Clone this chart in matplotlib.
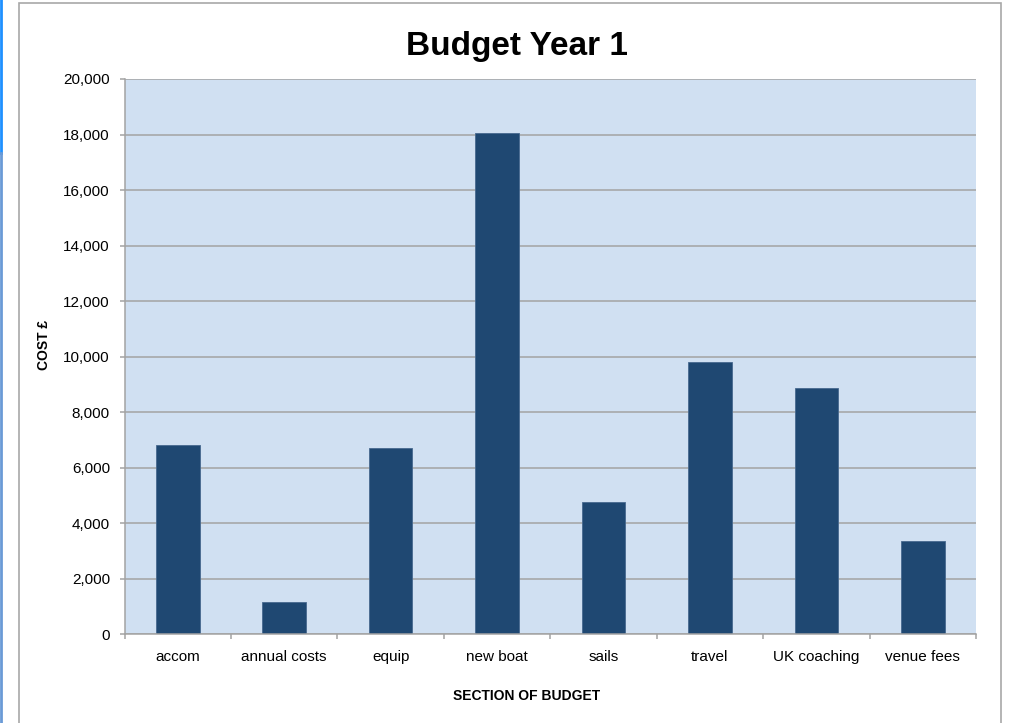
import matplotlib
matplotlib.use("Agg")
import matplotlib.pyplot as plt
import numpy as np
from matplotlib.patches import Rectangle
from matplotlib.lines import Line2D
from matplotlib.ticker import FuncFormatter, FixedLocator

plt.rcParams['font.family'] = ['Liberation Sans', 'DejaVu Sans']

categories = ["accom", "annual costs", "equip", "new boat", "sails",
              "travel", "UK coaching", "venue fees"]
costs = [6820, 1150, 6710, 18050, 4750, 9800, 8860, 3370]
y_ticks = [0, 2000, 4000, 6000, 8000, 10000, 12000, 14000, 16000, 18000, 20000]

title = "Budget Year 1"
x_title = "SECTION OF BUDGET"
y_title = "COST £"

grid_col = "#a3a3a3"
bar_col = "#1f4872"
face_col = "#d0e0f2"

fig = plt.figure(figsize=(10.11, 7.23), dpi=100)
W, H = 1011, 723

# chart frame (spreadsheet object border)
fig.patches.append(Rectangle((19 / W, -0.05), (1001 - 19) / W, 1.05 - 3 / H,
                             transform=fig.transFigure, fill=False,
                             edgecolor="#a8a8a8", linewidth=1.2))
# spreadsheet edge on the far left
fig.lines.append(Line2D([1 / W, 1 / W], [1, 1 - 153 / H], transform=fig.transFigure,
                        color="#1e90ff", linewidth=2))
fig.lines.append(Line2D([1 / W, 1 / W], [1 - 153 / H, 0], transform=fig.transFigure,
                        color="#6a9ad6", linewidth=2))

ax = fig.add_axes([124.5 / W, 1 - 634.3 / H, (976 - 124.5) / W, (634.3 - 79) / H])
ax.set_facecolor(face_col)

x = np.arange(len(categories))
ax.bar(x, costs, width=0.41, color=bar_col, edgecolor="#46698f", linewidth=0.6, zorder=3)

ax.set_xlim(-0.5, len(categories) - 0.5)
ax.set_ylim(0, 20000)
ax.set_yticks(y_ticks)
ax.yaxis.set_major_formatter(FuncFormatter(lambda v, p: f"{int(v):,}"))
ax.grid(axis="y", color=grid_col, linewidth=1.1, zorder=1)
ax.set_axisbelow(True)

ax.set_xticks(x)
ax.set_xticklabels(categories)
ax.xaxis.set_minor_locator(FixedLocator(np.arange(len(categories) + 1) - 0.5))
ax.tick_params(axis="x", which="major", length=0, pad=11, labelsize=11)
ax.tick_params(axis="x", which="minor", length=3.5, color=grid_col, width=1.1)
ax.tick_params(axis="y", length=3.5, color=grid_col, width=1.1, pad=7, labelsize=11)

for s in ["top", "right"]:
    ax.spines[s].set_visible(False)
for s in ["left", "bottom"]:
    ax.spines[s].set_color(grid_col)
    ax.spines[s].set_linewidth(1.1)
    ax.spines[s].set_zorder(4)

fig.text(517 / W, 1 - 46 / H, title, ha="center", va="center",
         fontsize=24, fontweight="bold")
fig.text(527 / W, 1 - 696 / H, x_title, ha="center", va="center",
         fontsize=10, fontweight="bold")
fig.text(44 / W, 1 - 345 / H, y_title, ha="center", va="center",
         fontsize=10, fontweight="bold", rotation=90)

fig.savefig("out.png", dpi=100)
